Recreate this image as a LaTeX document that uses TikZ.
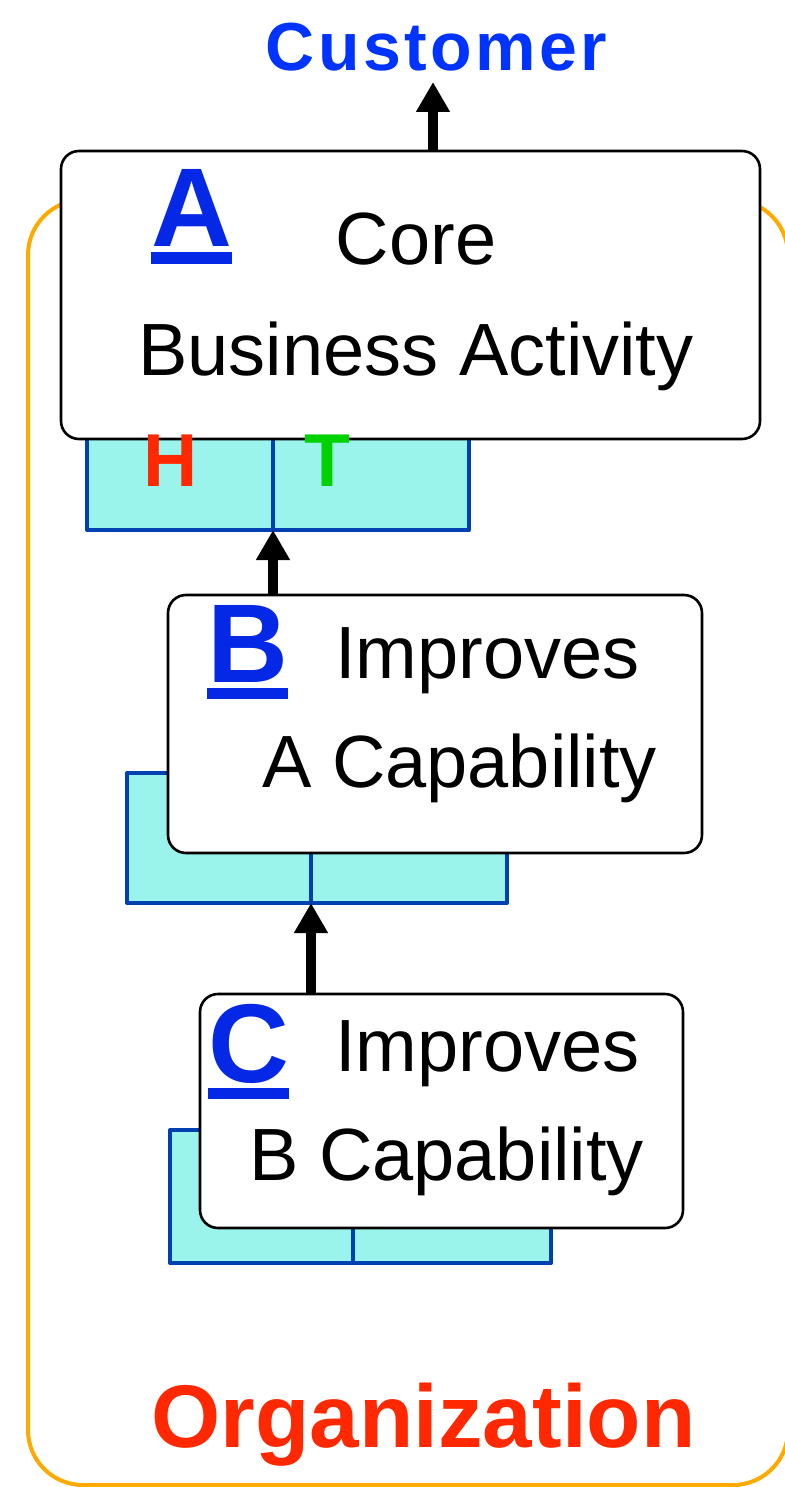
\documentclass[tikz,border=0pt]{standalone}
\usepackage{fontspec}
\setmainfont{Liberation Sans}
\usetikzlibrary{arrows.meta,positioning}
\definecolor{orgorange}{RGB}{255,170,0}
\definecolor{holdcyan}{RGB}{155,244,236}
\definecolor{holdblue}{RGB}{0,64,176}
\definecolor{tagblue}{RGB}{5,40,230}
\definecolor{custblue}{RGB}{0,51,255}
\definecolor{orgred}{RGB}{255,40,0}
\definecolor{tgreen}{RGB}{0,210,0}
% letter with a thick bar under it
\newcommand{\ulletter}[1]{\setbox0\hbox{#1}\rlap{\rule[-17pt]{\wd0}{11.5pt}}\box0}
\begin{document}
\begin{tikzpicture}[x=1pt, y=-1pt, line join=round, >={Triangle[width=32pt,length=30pt]},
	actbox/.style={draw, line width=2.6pt, fill=white, rounded corners=18pt, inner sep=0pt, outer sep=0pt},
	holder/.style={draw=holdblue, line width=4pt, fill=holdcyan, inner sep=0pt, outer sep=0pt, anchor=north west},
	txt/.style={inner sep=0pt, anchor=base west, font=\fontsize{74}{80}\selectfont},
	tag/.style={inner sep=0pt, anchor=base west, text=tagblue, font=\fontsize{112}{120}\selectfont\bfseries},
	ht/.style={inner sep=0pt, anchor=base west, font=\fontsize{75}{80}\selectfont\bfseries},
	flow/.style={->, line width=10pt, line cap=butt}]
	\useasboundingbox (0,0) rectangle (784,1487);
	% organization frame
	\draw[orgorange, line width=4pt, rounded corners=55pt] (28,200) rectangle (788,1485);
	% holders under the activities
	\foreach \n/\l/\m/\r/\t/\b in {A/87/273/469/420/530, B/127/311/507/773/903, C/170/353/551/1130/1263}{
		\node[holder, minimum width=\m-\l, minimum height=\b-\t] (h\n1) at (\l,\t) {};
		\node[holder, minimum width=\r-\m, minimum height=\b-\t] (h\n2) at (\m,\t) {};
	}
	% activities
	\node[actbox, minimum width=699pt, minimum height=288pt] (A) at (410.5,295) {};
	\node[actbox, minimum width=534pt, minimum height=258pt] (B) at (435,724) {};
	\node[actbox, minimum width=483pt, minimum height=234pt] (C) at (441.5,1111) {};
	\node[tag] (tA) at (151,247) {\ulletter{A}};
	\node[tag] (tB) at (207,682) {\ulletter{B}};
	\node[tag] (tC) at (208,1082) {\ulletter{C}};
	\node[txt, anchor=base] (a1) at (416,265) {Core};
	\node[txt, anchor=base] (a2) at (416,375) {Business Activity};
	\node[txt] (b1) at (335,678) {Improves};
	\node[txt] (b2) at (262,787) {A Capability};
	\node[txt] (c1) at (335,1071) {Improves};
	\node[txt] (c2) at (249,1180) {B Capability};
	\node[ht, text=orgred] (hlab) at (143.5,486) {H};
	\node[ht, text=tgreen] (tlab) at (304.5,486) {T};
	% outside and inside
	\node[inner sep=0pt, anchor=base, text=custblue, font=\fontsize{68}{72}\selectfont\bfseries\addfontfeature{LetterSpace=5}] (cust) at (436.5,71) {Customer};
	\node[inner sep=0pt, anchor=base, text=orgred, font=\fontsize{89}{96}\selectfont\bfseries] (org) at (423.5,1447) {Organization};
	\coordinate (custtip) at (433,82);
	\draw[flow] (A.north -| custtip) -- (custtip);
	\draw[flow] (B.north -| hA1.south east) -- (hA1.south east);
	\draw[flow] (C.north -| hB1.south east) -- (hB1.south east);
\end{tikzpicture}
\end{document}
